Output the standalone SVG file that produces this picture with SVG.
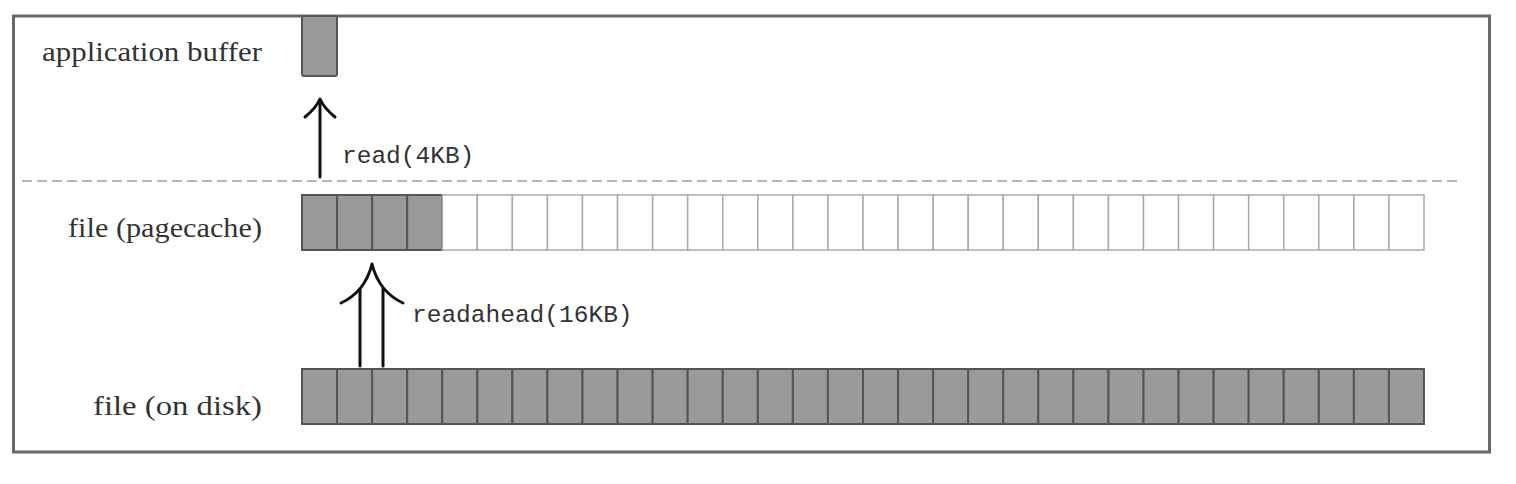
<svg xmlns="http://www.w3.org/2000/svg" width="1516" height="484" viewBox="0 0 1516 484">
<style>
.lbl{font-family:"Liberation Serif","DejaVu Serif",serif;font-size:27px;fill:#333;text-anchor:end}
.tt{font-family:"Liberation Mono","DejaVu Sans Mono",monospace;font-size:24.5px;fill:#333}
.full{fill:#9a9a9a;stroke:#555;stroke-width:2}
.empty{fill:#fff;stroke:#aaa;stroke-width:1.5}
.arr{fill:none;stroke:#111;stroke-width:3;stroke-linecap:round;stroke-linejoin:round}
</style>
<defs>
<rect id="cf" class="full" width="35.06" height="55"/>
<rect id="ce" class="empty" width="35.06" height="55"/>
</defs>
<rect x="0" y="0" width="1516" height="484" fill="#fff"/>
<rect id="frame" x="13.5" y="16" width="1476" height="436" fill="#fff" stroke="#686868" stroke-width="3"/>
<line id="divider" x1="22" y1="181" x2="1459" y2="181" stroke="#a0a0a0" stroke-width="1.5" stroke-dasharray="10 5"/>
<g id="appbuf">
<text class="lbl" x="262" y="61" textLength="220" lengthAdjust="spacingAndGlyphs">application buffer</text>
<rect class="full" x="302" y="16" width="35" height="60" rx="2"/>
</g>
<g id="pagecache">
<text class="lbl" x="262" y="237" textLength="194" lengthAdjust="spacingAndGlyphs">file (pagecache)</text>
<use href="#cf" x="302" y="195"/><use href="#cf" x="337.06" y="195"/><use href="#cf" x="372.12" y="195"/><use href="#cf" x="407.18" y="195"/>
<use href="#ce" x="442.25" y="195"/><use href="#ce" x="477.31" y="195"/><use href="#ce" x="512.37" y="195"/><use href="#ce" x="547.43" y="195"/>
<use href="#ce" x="582.5" y="195"/><use href="#ce" x="617.56" y="195"/><use href="#ce" x="652.62" y="195"/><use href="#ce" x="687.68" y="195"/>
<use href="#ce" x="722.75" y="195"/><use href="#ce" x="757.81" y="195"/><use href="#ce" x="792.87" y="195"/><use href="#ce" x="827.93" y="195"/>
<use href="#ce" x="863" y="195"/><use href="#ce" x="898.06" y="195"/><use href="#ce" x="933.12" y="195"/><use href="#ce" x="968.18" y="195"/>
<use href="#ce" x="1003.25" y="195"/><use href="#ce" x="1038.31" y="195"/><use href="#ce" x="1073.37" y="195"/><use href="#ce" x="1108.43" y="195"/>
<use href="#ce" x="1143.5" y="195"/><use href="#ce" x="1178.56" y="195"/><use href="#ce" x="1213.62" y="195"/><use href="#ce" x="1248.68" y="195"/>
<use href="#ce" x="1283.75" y="195"/><use href="#ce" x="1318.81" y="195"/><use href="#ce" x="1353.87" y="195"/><use href="#ce" x="1388.93" y="195"/>
</g>
<g id="disk">
<text class="lbl" x="262" y="415" textLength="169" lengthAdjust="spacingAndGlyphs">file (on disk)</text>
<use href="#cf" x="302" y="369"/><use href="#cf" x="337.06" y="369"/><use href="#cf" x="372.12" y="369"/><use href="#cf" x="407.18" y="369"/>
<use href="#cf" x="442.25" y="369"/><use href="#cf" x="477.31" y="369"/><use href="#cf" x="512.37" y="369"/><use href="#cf" x="547.43" y="369"/>
<use href="#cf" x="582.5" y="369"/><use href="#cf" x="617.56" y="369"/><use href="#cf" x="652.62" y="369"/><use href="#cf" x="687.68" y="369"/>
<use href="#cf" x="722.75" y="369"/><use href="#cf" x="757.81" y="369"/><use href="#cf" x="792.87" y="369"/><use href="#cf" x="827.93" y="369"/>
<use href="#cf" x="863" y="369"/><use href="#cf" x="898.06" y="369"/><use href="#cf" x="933.12" y="369"/><use href="#cf" x="968.18" y="369"/>
<use href="#cf" x="1003.25" y="369"/><use href="#cf" x="1038.31" y="369"/><use href="#cf" x="1073.37" y="369"/><use href="#cf" x="1108.43" y="369"/>
<use href="#cf" x="1143.5" y="369"/><use href="#cf" x="1178.56" y="369"/><use href="#cf" x="1213.62" y="369"/><use href="#cf" x="1248.68" y="369"/>
<use href="#cf" x="1283.75" y="369"/><use href="#cf" x="1318.81" y="369"/><use href="#cf" x="1353.87" y="369"/><use href="#cf" x="1388.93" y="369"/>
</g>
<g id="connectors">
<g id="read-arrow">
<line class="arr" x1="320" y1="177" x2="320" y2="101"/>
<path class="arr" d="M305,117 Q316,108 320,99 Q324,108 335,117"/>
<text class="tt" x="342" y="163">read(4KB)</text>
</g>
<g id="readahead-arrow">
<line class="arr" x1="360" y1="366" x2="360" y2="289"/>
<line class="arr" x1="383" y1="366" x2="383" y2="289"/>
<path class="arr" d="M341,303 Q365,292 372,264 Q379,292 403,303"/>
<text class="tt" x="412" y="322">readahead(16KB)</text>
</g>
</g>
</svg>
